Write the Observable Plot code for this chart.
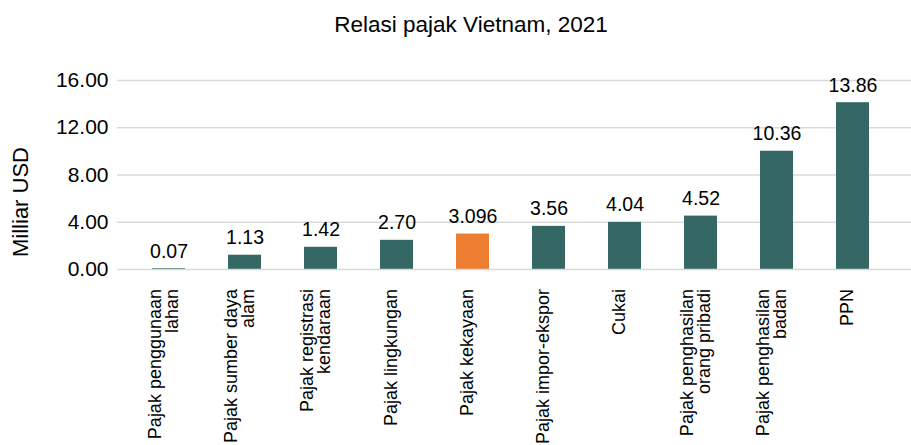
<!DOCTYPE html>
<html>
<head>
<meta charset="utf-8">
<script src="https://cdn.jsdelivr.net/npm/d3@7"></script>
<script src="https://cdn.jsdelivr.net/npm/@observablehq/plot@0.6"></script>
<style>
  html, body { margin: 0; padding: 0; background: #fff; }
  #wrap { position: relative; width: 911px; height: 445px; overflow: hidden; font-family: "Liberation Sans", Arial, sans-serif; }
  #title { height: 45px; box-sizing: border-box; padding: 14px 0 0 31px; text-align: center; font-size: 22.5px; line-height: 22px; color: #000; }
  #chart svg { display: block; }
</style>
</head>
<body>
<div id="wrap">
  <div id="title"></div>
  <div id="chart"></div>
</div>
<script>
const titleText = "Relasi pajak Vietnam, 2021";
const yLabel = "Milliar USD";
const categories = [
  "Pajak penggunaan lahan",
  "Pajak sumber daya alam",
  "Pajak registrasi kendaraan",
  "Pajak lingkungan",
  "Pajak kekayaan",
  "Pajak impor-ekspor",
  "Cukai",
  "Pajak penghasilan orang pribadi",
  "Pajak penghasilan badan",
  "PPN"
];
const tickLabels = [
  "Pajak penggunaan\nlahan",
  "Pajak sumber daya\nalam",
  "Pajak registrasi\nkendaraan",
  "Pajak lingkungan",
  "Pajak kekayaan",
  "Pajak impor-ekspor",
  "Cukai",
  "Pajak penghasilan\norang pribadi",
  "Pajak penghasilan\nbadan",
  "PPN"
];
// bar heights as drawn in the picture
const values = [0.07, 1.21, 1.88, 2.47, 3.00, 3.65, 3.99, 4.52, 10.01, 14.12];
// value labels as printed above the bars
const valueLabels = ["0.07", "1.13", "1.42", "2.70", "3.096", "3.56", "4.04", "4.52", "10.36", "13.86"];
const highlight = "Pajak kekayaan";
const yTicks = [0, 4, 8, 12, 16];
const yTickLabels = ["0.00", "4.00", "8.00", "12.00", "16.00"];

const teal = "#356865";
const orange = "#ED7D31";
const grid = "#d9d9d9";
const font = "'Liberation Sans', Arial, sans-serif";

document.getElementById("title").textContent = titleText;

const data = categories.map((c, i) => ({
  category: c,
  value: values[i],
  label: valueLabels[i],
  tick: tickLabels[i],
  group: c === highlight ? "hl" : "base"
}));

const chart = Plot.plot({
  width: 911,
  height: 400,
  marginTop: 35,
  marginBottom: 176,
  marginLeft: 117,
  marginRight: 0,
  style: { fontFamily: font, color: "#000", background: "#fff", overflow: "visible" },
  x: { type: "band", domain: categories, paddingInner: 0.567, paddingOuter: 0.2835, insetLeft: 12, insetRight: 20, axis: null },
  y: { domain: [0, 16], axis: null },
  color: { domain: ["base", "hl"], range: [teal, orange] },
  marks: [
    Plot.ruleY(yTicks.filter(t => t !== 0), { stroke: grid, strokeWidth: 1.3 }),
    Plot.axisY({
      ticks: yTicks,
      tickFormat: d => yTickLabels[yTicks.indexOf(d)],
      tickSize: 0,
      tickPadding: 9,
      fontSize: 21,
      label: null,
      fill: "#000"
    }),
    Plot.barY(data, { x: "category", y: "value", fill: "group" }),
    Plot.ruleY([0], { stroke: grid, strokeWidth: 1.3 }),
    Plot.text(data, {
      x: "category", y: "value", text: "label",
      lineAnchor: "bottom", dy: -11, fontSize: 19.5, fill: "#000"
    }),
    Plot.text(data, {
      x: "category", text: "tick", frameAnchor: "bottom",
      rotate: -90, textAnchor: "end", lineAnchor: "middle",
      dy: 19.5, dx: -5, fontSize: 18, lineHeight: 0.95, fill: "#000"
    }),
    Plot.text([yLabel], {
      text: d => d, frameAnchor: "left", rotate: -90,
      textAnchor: "middle", lineAnchor: "middle",
      dx: -97, dy: 27, fontSize: 22, fill: "#000"
    })
  ]
});
document.getElementById("chart").appendChild(chart);
</script>
</body>
</html>
